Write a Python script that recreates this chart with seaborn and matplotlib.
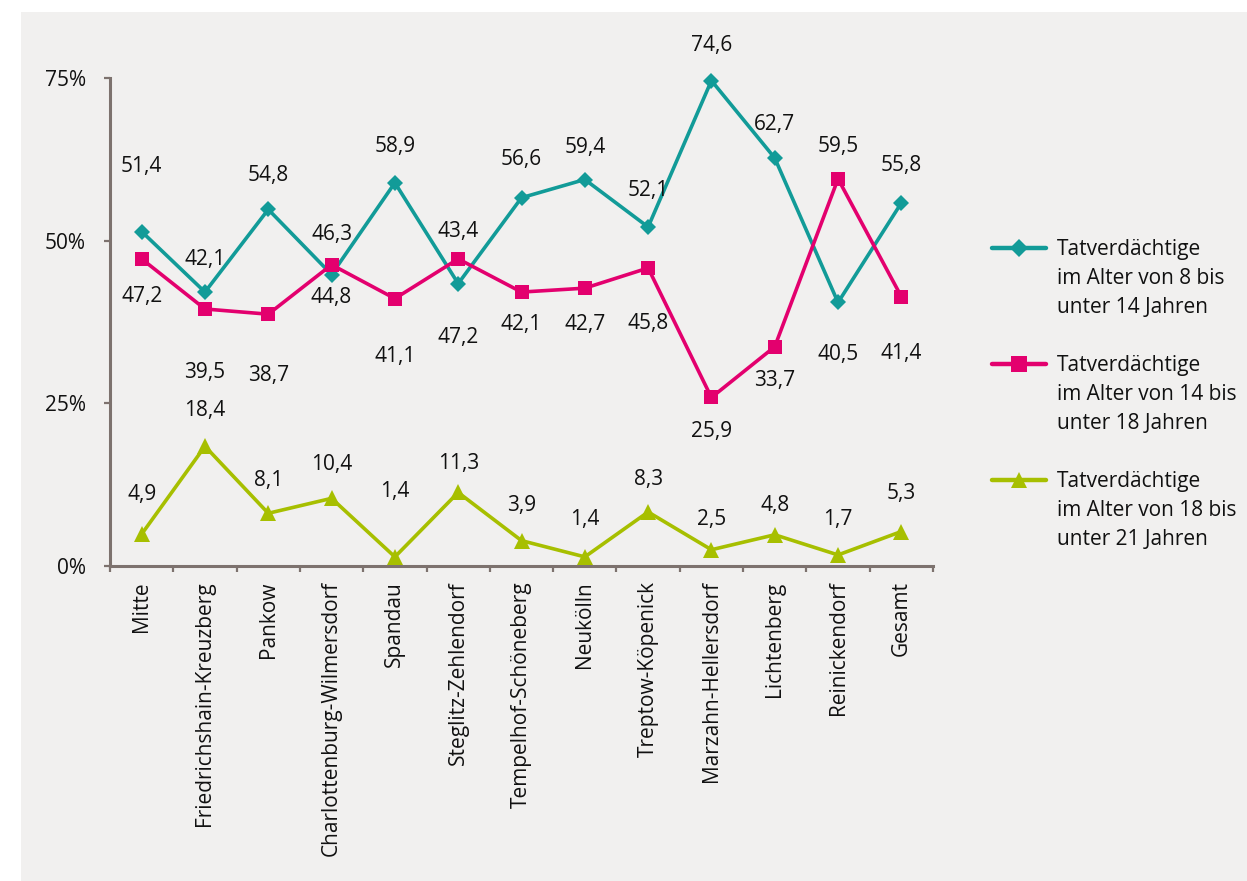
import matplotlib
matplotlib.use("Agg")
import matplotlib.pyplot as plt
from matplotlib.lines import Line2D
from matplotlib.patches import Rectangle
import numpy as np
import pandas as pd
import seaborn as sns

# --- data -----------------------------------------------------------------
bezirke = [
    "Mitte", "Friedrichshain-Kreuzberg", "Pankow", "Charlottenburg-Wilmersdorf",
    "Spandau", "Steglitz-Zehlendorf", "Tempelhof-Schöneberg", "Neukölln",
    "Treptow-Köpenick", "Marzahn-Hellersdorf", "Lichtenberg", "Reinickendorf",
    "Gesamt",
]
alter_8_14 = [51.4, 42.1, 54.8, 44.8, 58.9, 43.4, 56.6, 59.4, 52.1, 74.6, 62.7, 40.5, 55.8]
alter_14_18 = [47.2, 39.5, 38.7, 46.3, 41.1, 47.2, 42.1, 42.7, 45.8, 25.9, 33.7, 59.5, 41.4]
alter_18_21 = [4.9, 18.4, 8.1, 10.4, 1.4, 11.3, 3.9, 1.4, 8.3, 2.5, 4.8, 1.7, 5.3]

serien = [
    "Tatverdächtige\nim Alter von 8 bis\nunter 14 Jahren",
    "Tatverdächtige\nim Alter von 14 bis\nunter 18 Jahren",
    "Tatverdächtige\nim Alter von 18 bis\nunter 21 Jahren",
]
y_ticks = [0, 25, 50, 75]
y_ticklabels = ["0%", "25%", "50%", "75%"]

# --- styling --------------------------------------------------------------
farben = ["#129b98", "#e3006e", "#a7bf00"]
marker = ["D", "s", "^"]
marker_size = [8.5, 10, 11]
# vertical placement of each value label (pixels above/below the point)
label_offsets = [
    [65, 33, 34, -23, 36, 52, 38, 32, 37, 35, 34, -52, 37],
    [-38, -64, -61, 30, -58, -79, -32, -36, -56, -34, -34, 32, -57],
    [40, 36, 33, 34, 65, 29, 35, 37, 32, 30, 29, 35, 38],
]
achse = "#7d726e"
hintergrund = "#f1f0ef"
textfarbe = "#111111"

sns.set_theme(style="white")
plt.rcParams["font.family"] = ["Open Sans", "DejaVu Sans"]
fs = 15

W, H = 1247, 881
fig = plt.figure(figsize=(W / 100, H / 100), dpi=100)
fig.patch.set_facecolor("white")
fig.add_artist(Rectangle((21 / W, 0), 1 - 21 / W, 1 - 12 / H,
                         transform=fig.transFigure, facecolor=hintergrund,
                         edgecolor="none", zorder=0))

ax = fig.add_axes([110 / W, 1 - 566 / H, (933 - 110) / W, (566 - 78) / H])
ax.set_facecolor("none")

df = pd.DataFrame({
    "pos": np.tile(np.arange(len(bezirke)), 3),
    "wert": alter_8_14 + alter_14_18 + alter_18_21,
    "serie": np.repeat(serien, len(bezirke)),
})

for i, s in enumerate(serien):
    sub = df[df["serie"] == s]
    sns.lineplot(data=sub, x="pos", y="wert", ax=ax, color=farben[i],
                 marker=marker[i], markersize=marker_size[i], linewidth=2.6,
                 markeredgewidth=0, sort=False, label=s, clip_on=False,
                 zorder=3 + i if i < 2 else 3)

werte = [alter_8_14, alter_14_18, alter_18_21]
for i in range(3):
    for j, v in enumerate(werte[i]):
        ax.annotate(f"{v:.1f}".replace(".", ","), (j, v),
                    xytext=(0, label_offsets[i][j]), textcoords="offset pixels",
                    ha="center", va="center", fontsize=fs, color=textfarbe)

ax.set_xlim(-0.5, len(bezirke) - 0.5)
ax.set_ylim(0, 75)
ax.set_xlabel("")
ax.set_ylabel("")

# category labels centred, ticks between categories
ax.set_xticks(np.arange(len(bezirke)))
ax.set_xticklabels(bezirke, rotation=90, fontsize=fs, color=textfarbe)
ax.set_xticks(np.arange(len(bezirke) + 1) - 0.5, minor=True)
ax.tick_params(axis="x", which="major", length=0, pad=11)
ax.tick_params(axis="x", which="minor", length=4, width=1.6, color=achse,
               direction="out", bottom=True)
ax.set_yticks(y_ticks)
ax.set_yticklabels(y_ticklabels, fontsize=fs, color=textfarbe)
ax.tick_params(axis="y", length=4.5, width=1.6, color=achse, direction="out",
               left=True, pad=13)

for side in ["top", "right"]:
    ax.spines[side].set_visible(False)
for side in ["left", "bottom"]:
    ax.spines[side].set_color(achse)
    ax.spines[side].set_linewidth(2.2)

# legend: one row per text line, marker beside the first line of each entry
ax.get_legend().remove()
blank = Line2D([], [], color="none")
handles, labels = [], []
for i, s in enumerate(serien):
    zeilen = s.split("\n")
    handles.append(Line2D([], [], color=farben[i], marker=marker[i],
                          markersize=marker_size[i] + 1, linewidth=3.2,
                          markeredgewidth=0))
    labels.append(zeilen[0])
    for z in zeilen[1:]:
        handles.append(blank)
        labels.append(z)
    if i < len(serien) - 1:
        handles.append(blank)
        labels.append(" ")

fig.legend(handles, labels, loc="upper left",
           bbox_to_anchor=(992 / W, 1 - 239.5 / H), frameon=False,
           fontsize=fs, handlelength=2.6, handletextpad=0.5,
           labelspacing=0.38, borderpad=0, borderaxespad=0,
           labelcolor=textfarbe)

fig.savefig("out.png", dpi=100, facecolor=fig.get_facecolor())
